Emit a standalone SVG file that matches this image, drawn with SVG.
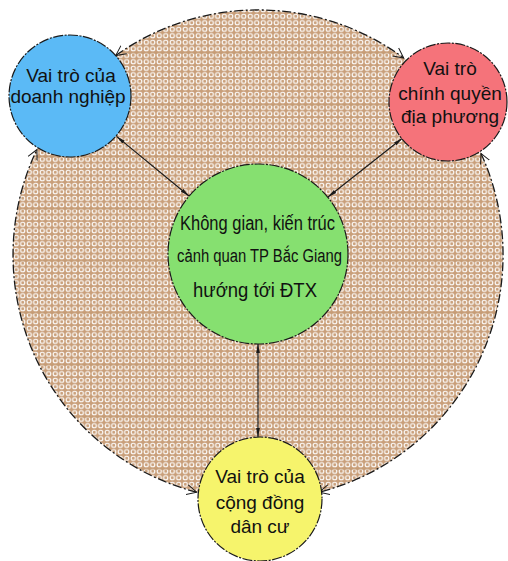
<svg xmlns="http://www.w3.org/2000/svg" width="508" height="561" viewBox="0 0 508 561">
  <style>
    .node { stroke: #1a1a1a; stroke-width: 1.2; stroke-dasharray: 10 1.5 2 1.5; }
    .label { font-family: "Liberation Sans", Arial, sans-serif; fill: #111; text-anchor: middle; }
    .ring { fill: none; stroke: #1a1a1a; stroke-width: 1.3; stroke-dasharray: 9 2.5 2 2.5; }
    .spoke { fill: none; stroke: #1a1a1a; stroke-width: 1.2; }
    .seam { stroke: #c29871; stroke-width: 1; }
  </style>
  <defs>
    <pattern id="rings" x="0" y="0" width="6.5" height="6.5" patternUnits="userSpaceOnUse">
      <rect width="6.5" height="6.5" fill="#c99f7a"/>
      <circle cx="3.25" cy="3.25" r="2.1" fill="none" stroke="#ffffff" stroke-width="1.1"/>
    </pattern>
    <clipPath id="discClip">
      <circle cx="258" cy="255" r="245"/>
    </clipPath>
    <marker id="openHead" markerUnits="userSpaceOnUse" markerWidth="12" markerHeight="12" refX="10" refY="5" orient="auto-start-reverse" viewBox="0 0 12 10">
      <path d="M0,0 L10,5 L0,10" fill="none" stroke="#1a1a1a" stroke-width="1"/>
    </marker>
    <marker id="solidHead" markerUnits="userSpaceOnUse" markerWidth="10" markerHeight="6" refX="9" refY="2.5" orient="auto-start-reverse" viewBox="0 0 10 5">
      <path d="M0,0.6 L9,2.5 L0,4.4 Z" fill="#1a1a1a"/>
    </marker>
  </defs>

  <!-- shaded disc behind the nodes -->
  <g id="disc">
    <circle cx="258" cy="255" r="245" fill="url(#rings)"/>
    <g clip-path="url(#discClip)">
      <line class="seam" x1="0" y1="53" x2="508" y2="53"/>
      <line class="seam" x1="0" y1="105" x2="508" y2="105"/>
      <line class="seam" x1="0" y1="157" x2="508" y2="157"/>
      <line class="seam" x1="0" y1="209" x2="508" y2="209"/>
      <line class="seam" x1="0" y1="261" x2="508" y2="261"/>
      <line class="seam" x1="0" y1="313" x2="508" y2="313"/>
      <line class="seam" x1="0" y1="365" x2="508" y2="365"/>
      <line class="seam" x1="0" y1="417" x2="508" y2="417"/>
      <line class="seam" x1="0" y1="469" x2="508" y2="469"/>
    </g>
  </g>

  <g id="connectors">
    <!-- outer ring arcs between the role nodes -->
    <path class="ring" marker-start="url(#openHead)" marker-end="url(#openHead)" d="M115.7,55.5 A245,245 0 0 1 403.7,58"/>
    <path class="ring" marker-start="url(#openHead)" marker-end="url(#openHead)" d="M481,153.4 A245,245 0 0 1 319.3,492.2"/>
    <path class="ring" marker-start="url(#openHead)" marker-end="url(#openHead)" d="M196.7,492.2 A245,245 0 0 1 36.9,149.5"/>
    <!-- spokes to the centre -->
    <path class="spoke" marker-start="url(#solidHead)" marker-end="url(#solidHead)" d="M116.6,136.4 L189,196"/>
    <path class="spoke" marker-start="url(#solidHead)" marker-end="url(#solidHead)" d="M402.3,138.3 L328,197"/>
    <path class="spoke" marker-start="url(#solidHead)" marker-end="url(#solidHead)" d="M258,344 L258,437"/>
  </g>

  <g id="center">
    <circle class="node" cx="258" cy="254" r="90" fill="#86e070"/>
    <text class="label" x="257.5" y="230" font-size="20" textLength="155" lengthAdjust="spacingAndGlyphs">Không gian, kiến trúc</text>
    <text class="label" x="259.5" y="262" font-size="18" textLength="165" lengthAdjust="spacingAndGlyphs">cảnh quan TP Bắc Giang</text>
    <text class="label" x="255" y="297" font-size="20" textLength="124" lengthAdjust="spacingAndGlyphs">hướng tới ĐTX</text>
  </g>

  <g id="business">
    <circle class="node" cx="70" cy="96" r="61" fill="#5bbaf6"/>
    <text class="label" x="71" y="82" font-size="19">Vai trò của</text>
    <text class="label" x="68" y="103" font-size="19">doanh nghiệp</text>
  </g>

  <g id="local-government">
    <circle class="node" cx="448" cy="102" r="59" fill="#f5737a"/>
    <text class="label" x="450" y="75" font-size="19">Vai trò</text>
    <text class="label" x="450" y="100" font-size="19">chính quyền</text>
    <text class="label" x="450" y="123" font-size="19">địa phương</text>
  </g>

  <g id="community">
    <circle class="node" cx="260" cy="499" r="62" fill="#f6f46c"/>
    <text class="label" x="260" y="483" font-size="19">Vai trò của</text>
    <text class="label" x="260" y="509" font-size="19">cộng đồng</text>
    <text class="label" x="260" y="533" font-size="19">dân cư</text>
  </g>
</svg>
